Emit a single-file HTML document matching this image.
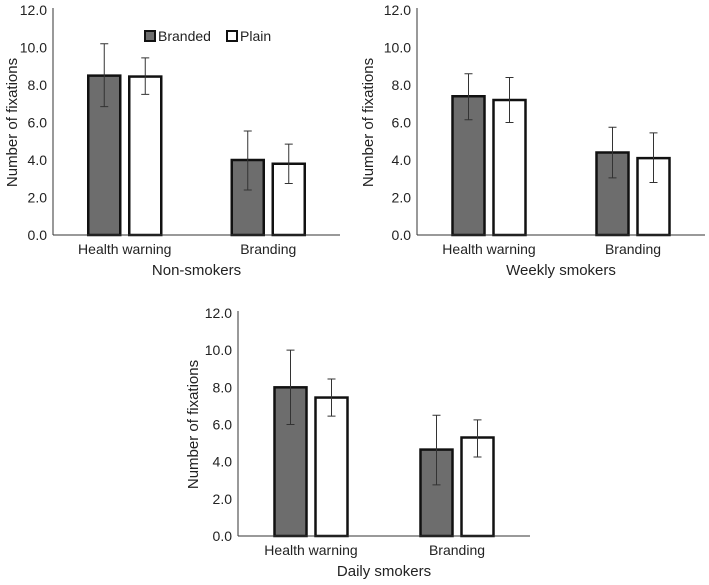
<!DOCTYPE html>
<html><head><meta charset="utf-8"><style>
body{margin:0;background:#fff;}
svg text{font-family:"Liberation Sans",sans-serif;fill:#222;}
</style></head><body>
<svg id="c" width="709" height="580" xmlns="http://www.w3.org/2000/svg"></svg>
<script>
const categories = ["Health warning","Branding"];
const seriesNames = ["Branded","Plain"];
const panelTitles = ["Non-smokers","Weekly smokers","Daily smokers"];
const tickLabels = ["0.0","2.0","4.0","6.0","8.0","10.0","12.0"];
const tickValues = [0,2,4,6,8,10,12];
const nsBranded = [8.5,4.0];
const nsBrandedLo = [6.85,2.4];
const nsBrandedHi = [10.2,5.55];
const nsPlain = [8.45,3.8];
const nsPlainLo = [7.5,2.75];
const nsPlainHi = [9.45,4.85];
const wkBranded = [7.4,4.4];
const wkBrandedLo = [6.15,3.05];
const wkBrandedHi = [8.6,5.75];
const wkPlain = [7.2,4.1];
const wkPlainLo = [6.0,2.8];
const wkPlainHi = [8.4,5.45];
const dyBranded = [8.0,4.65];
const dyBrandedLo = [6.0,2.75];
const dyBrandedHi = [10.0,6.5];
const dyPlain = [7.45,5.3];
const dyPlainLo = [6.45,4.25];
const dyPlainHi = [8.45,6.25];

const svg=document.getElementById('c');
const NS='http://www.w3.org/2000/svg';
function mk(t,a,p){const e=document.createElementNS(NS,t);for(const k in a)e.setAttribute(k,a[k]);(p||svg).appendChild(e);return e;}

const panels=[
 {x0:53,x1:340,y0:235,y1:10,ylx:12,data:[[nsBranded,nsBrandedLo,nsBrandedHi],[nsPlain,nsPlainLo,nsPlainHi]],legend:true},
 {x0:417,x1:705,y0:235,y1:10,ylx:368,data:[[wkBranded,wkBrandedLo,wkBrandedHi],[wkPlain,wkPlainLo,wkPlainHi]]},
 {x0:238,x1:530,y0:536,y1:313,ylx:193,data:[[dyBranded,dyBrandedLo,dyBrandedHi],[dyPlain,dyPlainLo,dyPlainHi]]}
];
const fills=["#6d6d6d","#ffffff"];
panels.forEach((p,pi)=>{
 const g=mk('g',{});
 
 
 const y=v=>p.y0-(v/12)*(p.y0-p.y1);
 const bandW=(p.x1-p.x0)/categories.length;
 const cx=i=>p.x0+bandW*(i+0.5);
 const ax=mk('line',{x1:p.x0,y1:p.y1-2,x2:p.x0,y2:p.y0,stroke:'#333','stroke-width':1},g);
 
 tickValues.forEach((v,i)=>{
  const t=mk('text',{x:p.x0-6,y:y(v)+5,'text-anchor':'end','font-size':14},g);t.textContent=tickLabels[i];
  
 });
 const yt=mk('text',{x:p.ylx,y:(p.y0+p.y1)/2,'text-anchor':'middle','font-size':15,transform:`rotate(-90 ${p.ylx} ${(p.y0+p.y1)/2})`,dy:5},g);
 yt.textContent='Number of fixations';
 
 const bw=32,gap=9;
 categories.forEach((c,ci)=>{
  p.data.forEach((s,si)=>{
   const v=s[0][ci],lo=s[1][ci],hi=s[2][ci];
   const bx=cx(ci)+(si===0?-(gap/2+bw):gap/2);
   const r=mk('rect',{x:bx,y:y(v),width:bw,height:p.y0-y(v),fill:fills[si],stroke:'#111','stroke-width':2.5},g);
   
   const ex=bx+bw/2;
   const e=mk('path',{d:`M${ex},${y(lo)}V${y(hi)}M${ex-4},${y(lo)}H${ex+4}M${ex-4},${y(hi)}H${ex+4}`,stroke:'#333','stroke-width':1,fill:'none'},g);
   
  });
  const cl=mk('text',{x:cx(ci),y:p.y0+19,'text-anchor':'middle','font-size':14},g);cl.textContent=c;
  
 });
 const xa=mk('line',{x1:p.x0,y1:p.y0,x2:p.x1,y2:p.y0,stroke:'#333','stroke-width':1},g);
 
 const tt=mk('text',{x:(p.x0+p.x1)/2,y:p.y0+40,'text-anchor':'middle','font-size':15},g);tt.textContent=panelTitles[pi];
 
 if(p.legend){
  const lx=[145,227];
  seriesNames.forEach((n,si)=>{
   const r=mk('rect',{x:lx[si],y:31,width:10,height:10,fill:fills[si],stroke:'#111','stroke-width':2},g);
   
   const t=mk('text',{x:lx[si]+13,y:41,'font-size':14},g);t.textContent=n;
   
  });
 }
});
</script>
</body></html>
